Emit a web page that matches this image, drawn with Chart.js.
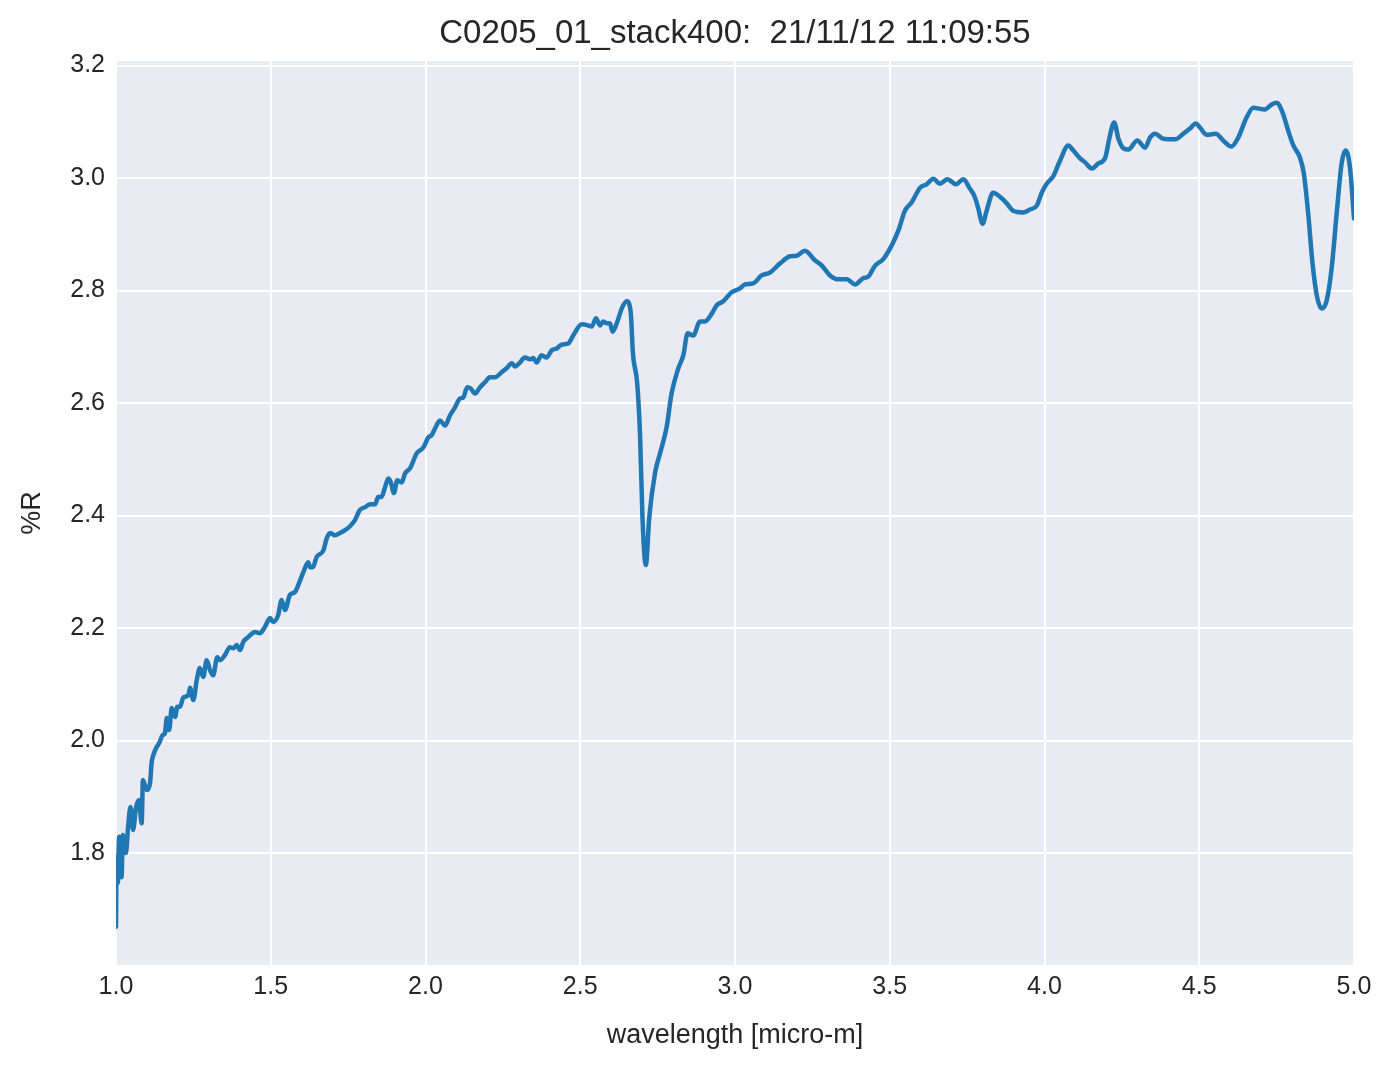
<!DOCTYPE html>
<html>
<head>
<meta charset="utf-8">
<script src="https://cdn.jsdelivr.net/npm/chart.js@4.4.0/dist/chart.umd.min.js"></script>
<style>
  html, body { margin: 0; padding: 0; background: #ffffff; }
  #wrap { width: 1394px; height: 1069px; }
</style>
</head>
<body>
<div id="wrap"><canvas id="c" width="1394" height="1069"></canvas></div>
<script>
const titleText = "C0205_01_stack400:  21/11/12 11:09:55";
const xLabel = "wavelength [micro-m]";
const yLabel = "%R";
const xTicks = [1.0, 1.5, 2.0, 2.5, 3.0, 3.5, 4.0, 4.5, 5.0];
const yTicks = [1.8, 2.0, 2.2, 2.4, 2.6, 2.8, 3.0, 3.2];

const wavelength = [
1.000,1.002,1.006,1.010,1.018,1.022,1.032,1.039,1.047,1.055,1.065,1.074,1.083,1.087,1.099,1.110,1.115,1.123,1.132,1.140,
1.151,1.158,1.164,1.172,1.180,1.191,1.198,1.207,1.217,1.234,1.239,1.250,1.261,1.271,1.282,1.293,1.304,1.314,1.327,1.336,
1.352,1.368,1.379,1.390,1.401,1.411,1.427,1.449,1.465,1.481,1.498,1.508,1.524,1.535,1.546,1.562,1.578,1.595,1.605,1.621,
1.627,1.637,1.648,1.670,1.681,1.693,1.707,1.724,1.740,1.756,1.772,1.788,1.805,1.821,1.837,1.847,1.858,1.869,1.880,1.888,
1.898,1.909,1.923,1.934,1.950,1.972,1.993,2.009,2.020,2.031,2.047,2.063,2.079,2.095,2.111,2.122,2.135,2.146,2.160,2.176,
2.192,2.208,2.225,2.246,2.262,2.279,2.289,2.305,2.321,2.338,2.348,2.359,2.375,2.391,2.408,2.424,2.440,2.461,2.477,2.505,
2.526,2.537,2.551,2.564,2.574,2.585,2.596,2.604,2.620,2.634,2.650,2.657,2.664,2.670,2.684,2.693,2.701,2.712,2.723,2.742,
2.758,2.779,2.795,2.817,2.833,2.847,2.865,2.887,2.903,2.925,2.941,2.962,2.989,3.016,3.032,3.059,3.086,3.113,3.145,3.178,
3.199,3.226,3.258,3.280,3.307,3.334,3.361,3.388,3.414,3.431,3.452,3.479,3.506,3.528,3.549,3.571,3.598,3.619,3.641,3.662,
3.686,3.714,3.738,3.757,3.775,3.786,3.800,3.813,3.834,3.862,3.878,3.899,3.931,3.953,3.975,3.991,4.007,4.029,4.050,4.077,
4.093,4.115,4.131,4.153,4.174,4.196,4.210,4.225,4.239,4.255,4.271,4.300,4.325,4.341,4.357,4.384,4.422,4.449,4.470,4.489,
4.502,4.524,4.554,4.577,4.604,4.626,4.653,4.675,4.712,4.734,4.750,4.769,4.787,4.804,4.825,4.838,4.852,4.866,4.881,4.896,
4.912,4.928,4.944,4.960,4.973,4.987,5.000
];
const reflectance = [
1.669,1.793,1.747,1.829,1.757,1.832,1.800,1.846,1.882,1.841,1.882,1.894,1.853,1.930,1.912,1.925,1.960,1.978,1.989,1.996,
2.010,2.013,2.040,2.019,2.058,2.042,2.060,2.060,2.076,2.081,2.094,2.072,2.108,2.129,2.113,2.143,2.125,2.116,2.148,2.143,
2.152,2.166,2.164,2.170,2.161,2.175,2.184,2.193,2.191,2.202,2.218,2.211,2.223,2.250,2.232,2.259,2.264,2.285,2.299,2.317,
2.308,2.309,2.326,2.338,2.360,2.369,2.365,2.369,2.374,2.381,2.392,2.410,2.415,2.420,2.420,2.433,2.433,2.450,2.466,2.459,
2.440,2.463,2.459,2.475,2.484,2.511,2.521,2.539,2.543,2.555,2.569,2.560,2.578,2.592,2.608,2.610,2.628,2.626,2.617,2.628,
2.637,2.646,2.646,2.655,2.662,2.671,2.665,2.672,2.681,2.678,2.680,2.672,2.685,2.681,2.694,2.697,2.704,2.706,2.720,2.740,
2.738,2.736,2.751,2.738,2.745,2.742,2.742,2.727,2.745,2.768,2.781,2.778,2.755,2.690,2.635,2.546,2.397,2.312,2.397,2.477,
2.511,2.557,2.617,2.662,2.685,2.724,2.720,2.745,2.745,2.759,2.774,2.781,2.797,2.804,2.811,2.813,2.827,2.832,2.848,2.861,
2.862,2.871,2.854,2.845,2.827,2.820,2.820,2.811,2.822,2.825,2.844,2.856,2.880,2.907,2.942,2.957,2.983,2.989,2.999,2.990,
2.998,2.989,2.998,2.983,2.966,2.946,2.919,2.942,2.974,2.964,2.955,2.942,2.939,2.944,2.951,2.974,2.990,3.004,3.031,3.058,
3.049,3.035,3.028,3.017,3.026,3.036,3.072,3.099,3.070,3.053,3.051,3.067,3.054,3.072,3.079,3.070,3.069,3.079,3.088,3.097,
3.090,3.077,3.079,3.067,3.056,3.072,3.108,3.125,3.122,3.131,3.134,3.117,3.085,3.058,3.037,3.008,2.937,2.848,2.788,2.768,
2.783,2.841,2.937,3.026,3.049,3.019,2.928
];

const points = wavelength.map((w, i) => ({ x: w, y: reflectance[i] }));

const FONT = "'Liberation Sans', Arial, 'DejaVu Sans', sans-serif";
const TEXT = '#262626';

const bgPlugin = {
  id: 'axesBg',
  beforeDraw(chart) {
    const { ctx, chartArea: a } = chart;
    ctx.save();
    ctx.fillStyle = '#EAEAF2';
    ctx.fillRect(a.left, a.top, a.right - a.left, a.bottom - a.top);
    ctx.restore();
  }
};

new Chart(document.getElementById('c'), {
  type: 'line',
  data: {
    datasets: [{
      data: points,
      borderColor: '#1f77b4',
      borderWidth: 4.5,
      pointRadius: 0,
      fill: false,
      cubicInterpolationMode: 'monotone',
      borderJoinStyle: 'round',
      borderCapStyle: 'round'
    }]
  },
  options: {
    responsive: false,
    animation: false,
    devicePixelRatio: 1,
    layout: { padding: { left: 0, right: 40, top: 0, bottom: 0 } },
    plugins: {
      legend: { display: false },
      tooltip: { enabled: false },
      title: {
        display: true,
        fullSize: false,
        text: titleText,
        color: TEXT,
        font: { family: FONT, size: 33, weight: 'normal', lineHeight: 1.2 },
        padding: { top: 14, bottom: 7.5 }
      }
    },
    scales: {
      x: {
        type: 'linear',
        min: 1.0,
        max: 5.0,
        afterFit(s) { s.height = 104; },
        afterBuildTicks(s) { s.ticks = xTicks.map(v => ({ value: v })); },
        border: { display: false },
        grid: { color: '#ffffff', lineWidth: 2, drawTicks: false },
        ticks: {
          color: TEXT,
          padding: 7,
          maxRotation: 0,
          font: { family: FONT, size: 25 },
          callback: v => Number(v).toFixed(1)
        },
        title: {
          display: true,
          text: xLabel,
          color: TEXT,
          font: { family: FONT, size: 27, lineHeight: 1.2 },
          padding: { top: 0, bottom: 17 }
        }
      },
      y: {
        type: 'linear',
        min: 1.601,
        max: 3.208,
        afterFit(s) { s.width = 116; },
        afterBuildTicks(s) { s.ticks = yTicks.map(v => ({ value: v })); },
        border: { display: false },
        grid: { color: '#ffffff', lineWidth: 2, drawTicks: false },
        ticks: {
          color: TEXT,
          padding: 11,
          font: { family: FONT, size: 25 },
          callback: v => Number(v).toFixed(1)
        },
        title: {
          display: true,
          text: yLabel,
          color: TEXT,
          font: { family: FONT, size: 27, lineHeight: 1.2 },
          padding: { top: 16, bottom: 0 }
        }
      }
    }
  },
  plugins: [bgPlugin]
});
</script>
</body>
</html>
